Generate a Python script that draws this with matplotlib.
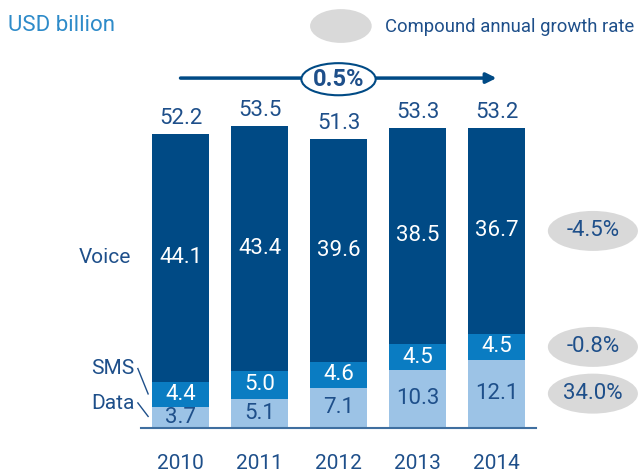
import matplotlib.pyplot as plt
from matplotlib.patches import Ellipse

plt.rcParams['font.family'] = ['Roboto', 'DejaVu Sans']

years = ['2010', '2011', '2012', '2013', '2014']
data = [3.7, 5.1, 7.1, 10.3, 12.1]
sms = [4.4, 5.0, 4.6, 4.5, 4.5]
voice = [44.1, 43.4, 39.6, 38.5, 36.7]
totals = ['52.2', '53.5', '51.3', '53.3', '53.2']
cagr = ['34.0%', '-0.8%', '-4.5%']
cagr_total = '0.5%'

c_voice = '#004A85'
c_sms = '#0A7CC2'
c_data = '#9CC3E6'
c_text = '#1E4F8A'
c_light = '#2E8BC9'
c_grey = '#D9D9D9'

fig = plt.figure(figsize=(6.38, 4.73), dpi=100)
ax = fig.add_axes([0, 0, 1, 1])
ax.set_xlim(-2.285, 5.791)
ax.set_ylim(-8.05, 75.97)
ax.axis('off')

x = list(range(len(years)))
w = 0.72
ax.bar(x, data, w, color=c_data)
ax.bar(x, sms, w, bottom=data, color=c_sms)
bott = [d + s for d, s in zip(data, sms)]
ax.bar(x, voice, w, bottom=bott, color=c_voice)
ax.plot([-0.5, 4.5], [0, 0], color='#3F6FA0', lw=1.5)

for i in x:
    ax.text(i, data[i] / 2, f'{data[i]:.1f}', ha='center', va='center', fontsize=16, color=c_text)
    ax.text(i, data[i] + sms[i] / 2, f'{sms[i]:.1f}', ha='center', va='center', fontsize=16, color='white')
    ax.text(i, bott[i] + voice[i] / 2, f'{voice[i]:.1f}', ha='center', va='center', fontsize=16, color='white')
    ax.text(i, bott[i] + voice[i] + 0.9, totals[i], ha='center', va='bottom', fontsize=16, color=c_text)
    ax.text(i, -6.3, years[i], ha='center', va='center', fontsize=15, color=c_text)

# series names with leader lines
last = len(years) - 1
ax.text(-0.62, bott[0] + voice[0] / 2, 'Voice', ha='right', va='center', fontsize=15, color=c_text)
ax.text(-0.58, 10.6, 'SMS', ha='right', va='center', fontsize=15, color=c_text)
ax.text(-0.58, 4.3, 'Data', ha='right', va='center', fontsize=15, color=c_text)
ax.plot([-0.54, -0.41], [10.5, 6.0], color=c_text, lw=1)
ax.plot([-0.54, -0.41], [4.4, 2.0], color=c_text, lw=1)

# CAGR bubbles next to the last bar
mids = [data[last] / 2, data[last] + sms[last] / 2, bott[last] + voice[last] / 2]
for m, lab in zip(mids, cagr):
    ax.add_patch(Ellipse((5.22, m), 1.14, 7.1, color=c_grey, lw=0))
    ax.text(5.22, m, lab, ha='center', va='center', fontsize=16, color=c_text)

# overall growth arrow
ay = 62.1
ax.annotate('', xy=(4.0, ay), xytext=(0, ay),
            arrowprops=dict(arrowstyle='-|>', color=c_voice, lw=2.5, mutation_scale=15,
                            shrinkA=0, shrinkB=0))
ax.add_patch(Ellipse((2.0, ay - 0.2), 0.94, 5.7, facecolor='white', edgecolor=c_voice, lw=1.5, zorder=3))
ax.text(2.0, ay - 0.2, cagr_total, ha='center', va='center', fontsize=17, fontweight='bold',
        color=c_text, zorder=4)

# header
fig.text(0.012, 0.947, 'USD billion', ha='left', va='center', fontsize=16, color=c_light)
ax.add_patch(Ellipse((2.03, 71.35), 0.78, 6.0, color=c_grey, lw=0))
fig.text(0.603, 0.943, 'Compound annual growth rate', ha='left', va='center', fontsize=13.3, color=c_text)

fig.savefig('out.png', dpi=100)
